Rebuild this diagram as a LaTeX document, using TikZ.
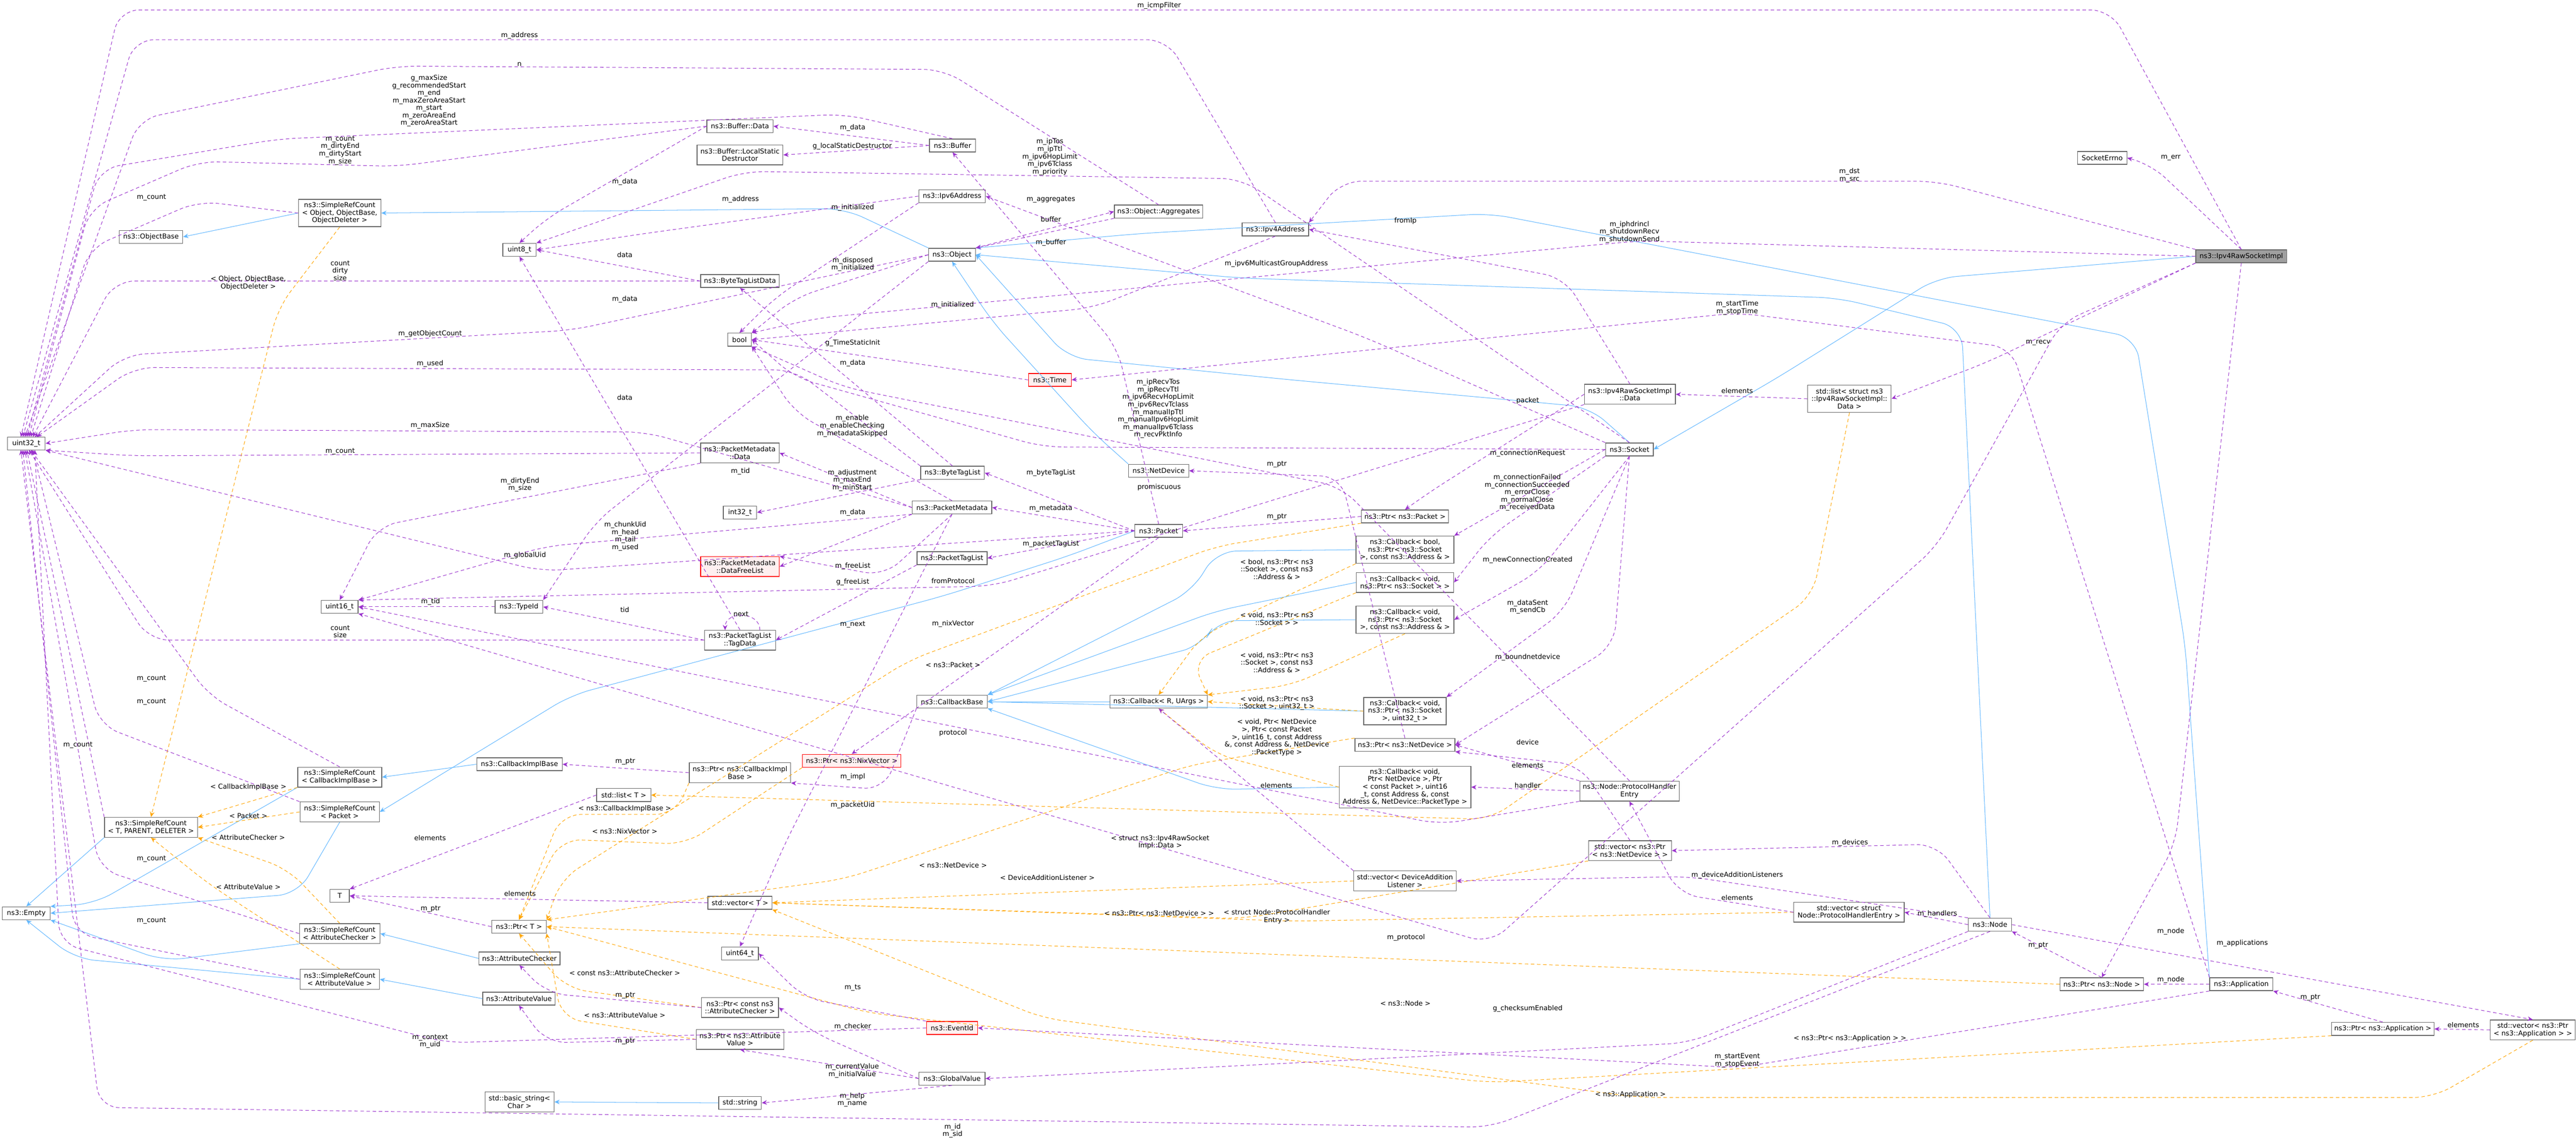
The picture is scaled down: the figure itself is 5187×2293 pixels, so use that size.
\documentclass[tikz,border=0pt]{standalone}
\usepackage{fontspec}
\setmainfont{DejaVu Sans}
\usetikzlibrary{arrows.meta}
\definecolor{pu}{HTML}{9A32CD}
\definecolor{or}{HTML}{FFA500}
\definecolor{bl}{HTML}{63B8FF}
\definecolor{bx}{HTML}{666666}
\begin{document}
\begin{tikzpicture}[x=0.01cm,y=-0.01cm,
  box/.style={draw=bx,fill=white,font=\fontsize{3.9}{4.3}\selectfont,align=center,inner sep=0.5pt,minimum height=0.26cm},
  two/.style={minimum height=0.40cm},
  three/.style={minimum height=0.55cm},
  redbox/.style={draw=red,fill=red!6},
  lbl/.style={font=\fontsize{3.9}{4.3}\selectfont,align=center,inner sep=0pt},
  use/.style={draw=pu,dash pattern=on 2pt off 1.5pt,line width=0.3pt,-{Stealth[length=3pt,width=2.6pt]},rounded corners=0.4cm},
  tmpl/.style={draw=or,dash pattern=on 2pt off 1.5pt,line width=0.3pt,-{Stealth[length=3pt,width=2.6pt]},rounded corners=0.4cm},
  inh/.style={draw=bl,line width=0.3pt,-{Stealth[length=3pt,width=2.6pt]},rounded corners=0.4cm}]
\useasboundingbox[fill=white] (0,0) rectangle (5187,2293);
% ---------------- nodes
\node[box,minimum width=1.83cm,fill=gray!75,draw=bx] (raw) at (4513,516) {ns3::Ipv4RawSocketImpl};
\node[box,minimum width=0.99cm] (errno) at (4233,318) {SocketErrno};
\node[box,minimum width=0.96cm] (sock) at (3281,905) {ns3::Socket};
\node[box,two,minimum width=1.83cm] (rawdata) at (3282,794) {ns3::Ipv4RawSocketImpl\\::Data};
\node[box,three,minimum width=1.68cm] (rawlist) at (3724,803) {std::list\textless{} struct ns3\\::Ipv4RawSocketImpl::\\Data \textgreater};
\node[box,minimum width=0.94cm] (obj) at (1917,513) {ns3::Object};
\node[box,three,minimum width=1.66cm] (srcobj) at (684,429) {ns3::SimpleRefCount\\\textless{} Object, ObjectBase,\\ObjectDeleter \textgreater};
\node[box,minimum width=1.28cm] (objbase) at (304,477) {ns3::ObjectBase};
\node[box,minimum width=0.76cm] (u32) at (53,893) {uint32\_t};
\node[box,minimum width=0.67cm] (u8) at (1046,503) {uint8\_t};
\node[box,minimum width=0.74cm] (u16) at (684,1222) {uint16\_t};
\node[box,minimum width=0.74cm] (u64) at (1490,1920) {uint64\_t};
\node[box,minimum width=0.67cm] (i32) at (1490,1032) {int32\_t};
\node[box,minimum width=0.48cm] (bool) at (1489,684) {bool};
\node[box,minimum width=0.93cm] (buf) at (1918,293) {ns3::Buffer};
\node[box,minimum width=1.33cm] (bufdata) at (1490,254) {ns3::Buffer::Data};
\node[box,two,minimum width=1.73cm] (bufdtor) at (1490,312) {ns3::Buffer::LocalStatic\\Destructor};
\node[box,minimum width=1.34cm] (ipv6) at (1917,395) {ns3::Ipv6Address};
\node[box,minimum width=1.34cm] (ipv4) at (2568,462) {ns3::Ipv4Address};
\node[box,minimum width=1.78cm] (agg) at (2333,426) {ns3::Object::Aggregates};
\node[box,minimum width=1.58cm] (btld) at (1490,566) {ns3::ByteTagListData};
\node[box,redbox,minimum width=0.86cm] (time) at (2114,765) {ns3::Time};
\node[box,two,minimum width=1.58cm] (pmdata) at (1490,912) {ns3::PacketMetadata\\::Data};
\node[box,minimum width=1.28cm] (btl) at (1918,952) {ns3::ByteTagList};
\node[box,minimum width=1.60cm] (pm) at (1917,1022) {ns3::PacketMetadata};
\node[box,minimum width=1.41cm] (ptl) at (1917,1124) {ns3::PacketTagList};
\node[box,two,redbox,minimum width=1.58cm] (freel) at (1490,1141) {ns3::PacketMetadata\\::DataFreeList};
\node[box,minimum width=1.21cm] (netdev) at (2333,948) {ns3::NetDevice};
\node[box,minimum width=0.96cm] (packet) at (2333,1069) {ns3::Packet};
\node[box,minimum width=1.75cm] (ptrpkt) at (2829,1040) {ns3::Ptr\textless{} ns3::Packet \textgreater};
\node[box,three,minimum width=1.97cm] (cbbool) at (2829,1107) {ns3::Callback\textless{} bool,\\ ns3::Ptr\textless{} ns3::Socket\\ \textgreater, const ns3::Address \& \textgreater};
\node[box,two,minimum width=1.96cm] (cbv) at (2829,1173) {ns3::Callback\textless{} void,\\ ns3::Ptr\textless{} ns3::Socket \textgreater{} \textgreater};
\node[box,three,minimum width=1.97cm] (cbva) at (2829,1248) {ns3::Callback\textless{} void,\\ ns3::Ptr\textless{} ns3::Socket\\ \textgreater, const ns3::Address \& \textgreater};
\node[box,minimum width=1.96cm] (cbr) at (2333,1413) {ns3::Callback\textless{} R, UArgs \textgreater};
\node[box,three,minimum width=1.66cm] (cbvu) at (2829,1432) {ns3::Callback\textless{} void,\\ ns3::Ptr\textless{} ns3::Socket\\ \textgreater, uint32\_t \textgreater};
\node[box,minimum width=2.01cm] (ptrnd) at (2829,1500) {ns3::Ptr\textless{} ns3::NetDevice \textgreater};
\node[box,minimum width=2.65cm,minimum height=0.84cm] (cbnd) at (2829,1585) {ns3::Callback\textless{} void,\\ Ptr\textless{} NetDevice \textgreater, Ptr\\\textless{} const Packet \textgreater, uint16\\\_t, const Address \&, const\\ Address \&, NetDevice::PacketType \textgreater};
\node[box,two,minimum width=2.06cm] (vdal) at (2829,1774) {std::vector\textless{} DeviceAddition\\Listener \textgreater};
\node[box,two,minimum width=2.00cm] (phe) at (3281,1593) {ns3::Node::ProtocolHandler\\Entry};
\node[box,two,minimum width=1.67cm] (vnd) at (3282,1713) {std::vector\textless{} ns3::Ptr\\\textless{} ns3::NetDevice \textgreater{} \textgreater};
\node[box,two,minimum width=2.22cm] (vphe) at (3723,1837) {std::vector\textless{} struct\\ Node::ProtocolHandlerEntry \textgreater};
\node[box,minimum width=0.87cm] (node) at (4007,1862) {ns3::Node};
\node[box,minimum width=1.68cm] (ptrnode) at (4232,1982) {ns3::Ptr\textless{} ns3::Node \textgreater};
\node[box,minimum width=1.27cm] (app) at (4513,1982) {ns3::Application};
\node[box,minimum width=2.06cm] (ptrapp) at (4798,2072) {ns3::Ptr\textless{} ns3::Application \textgreater};
\node[box,two,minimum width=1.71cm] (vapp) at (5100,2074) {std::vector\textless{} ns3::Ptr\\\textless{} ns3::Application \textgreater{} \textgreater};
\node[box,minimum width=0.96cm] (typeid) at (1045,1222) {ns3::TypeId};
\node[box,two,minimum width=1.43cm] (tagdata) at (1490,1289) {ns3::PacketTagList\\::TagData};
\node[box,minimum width=1.42cm] (cbbase) at (1917,1413) {ns3::CallbackBase};
\node[box,minimum width=1.72cm] (cib) at (1046,1539) {ns3::CallbackImplBase};
\node[box,two,minimum width=2.04cm] (ptrcib) at (1490,1556) {ns3::Ptr\textless{} ns3::CallbackImpl\\Base \textgreater};
\node[box,redbox,minimum width=1.98cm] (ptrnix) at (1715,1532) {ns3::Ptr\textless{} ns3::NixVector \textgreater};
\node[box,minimum width=1.09cm] (stdlist) at (1256,1601) {std::list\textless{} T \textgreater};
\node[box,minimum width=1.29cm] (stdvec) at (1490,1818) {std::vector\textless{} T \textgreater};
\node[box,minimum width=0.39cm] (tnode) at (684,1804) {T};
\node[box,minimum width=1.10cm] (ptrt) at (1045,1866) {ns3::Ptr\textless{} T \textgreater};
\node[box,minimum width=1.63cm] (ac) at (1046,1930) {ns3::AttributeChecker};
\node[box,minimum width=1.46cm] (av) at (1045,2011) {ns3::AttributeValue};
\node[box,two,minimum width=1.55cm] (ptrac) at (1490,2029) {ns3::Ptr\textless{} const ns3\\::AttributeChecker \textgreater};
\node[box,two,minimum width=1.76cm] (ptrav) at (1490,2093) {ns3::Ptr\textless{} ns3::Attribute\\Value \textgreater};
\node[box,redbox,minimum width=1.03cm] (eventid) at (1917,2070) {ns3::EventId};
\node[box,minimum width=1.33cm] (gv) at (1917,2172) {ns3::GlobalValue};
\node[box,minimum width=0.86cm] (str) at (1490,2221) {std::string};
\node[box,two,minimum width=1.39cm] (bstr) at (1046,2219) {std::basic\_string\textless\\Char \textgreater};
\node[box,two,minimum width=1.69cm] (srccib) at (684,1565) {ns3::SimpleRefCount\\\textless{} CallbackImplBase \textgreater};
\node[box,two,minimum width=1.87cm] (srctpd) at (304,1666) {ns3::SimpleRefCount\\\textless{} T, PARENT, DELETER \textgreater};
\node[box,two,minimum width=1.60cm] (srcpkt) at (684,1635) {ns3::SimpleRefCount\\\textless{} Packet \textgreater};
\node[box,two,minimum width=1.62cm] (srcac) at (684,1880) {ns3::SimpleRefCount\\\textless{} AttributeChecker \textgreater};
\node[box,two,minimum width=1.60cm] (srcav) at (684,1972) {ns3::SimpleRefCount\\\textless{} AttributeValue \textgreater};
\node[box,minimum width=0.96cm] (empty) at (53,1839) {ns3::Empty};
% ---------------- inheritance (blue)
\draw[inh] (srcobj.west) -- (objbase.east);
\draw[inh] (obj.north west) -- (1700,420) -- (srcobj.east);
\draw[inh] (sock.north) -- (3200,820) -- (2600,765) -- (2150,720) -- (obj.east);
\draw[inh] (netdev.north west) -- (2200,870) -- (2000,650) -- (obj.south);
\draw[inh] (node.north) -- (3950,660) -- (3700,600) -- (2500,560) -- (obj.east);
\draw[inh] (app.north west) -- (4400,1300) -- (4300,680) -- (3000,430) -- (2300,470) -- (obj.north east);
\draw[inh] (raw.west) -- (3900,560) -- (3580,760) -- (sock.east);
\draw[inh] (packet.west) -- (2150,1120) -- (1900,1200) -- (1150,1400) -- (srcpkt.east);
\draw[inh] (srcpkt.south) -- (600,1800) -- (empty.east);
\draw[inh] (srccib.south west) -- (190,1820) -- (empty.north east);
\draw[inh] (srctpd.south west) -- (empty.north);
\draw[inh] (srcac.south west) -- (330,1935) -- (empty.south east);
\draw[inh] (srcav.west) -- (150,1930) -- (empty.south);
\draw[inh] (cib.west) -- (srccib.east);
\draw[inh] (ac.west) -- (srcac.east);
\draw[inh] (av.west) -- (srcav.east);
\draw[inh] (str.west) -- (bstr.east);
\draw[inh] (cbr.west) -- (cbbase.east);
\draw[inh] (cbbool.west) -- (2450,1110) -- (2400,1190) -- (cbbase.north east);
\draw[inh] (cbv.west) -- (2450,1230) -- (cbbase.north east);
\draw[inh] (cbva.west) -- (2450,1250) -- (2420,1300) -- (cbbase.east);
\draw[inh] (cbvu.west) -- (cbbase.east);
\draw[inh] (cbnd.west) -- (2450,1590) -- (cbbase.south east);
% ---------------- templates (orange)
\draw[tmpl] (srcobj.south) -- (560,620) -- (srctpd.north);
\draw[tmpl] (srccib.south west) -- (srctpd.north east);
\draw[tmpl] (srcpkt.west) -- (srctpd.east);
\draw[tmpl] (srcac.north) -- (580,1750) -- (srctpd.south east);
\draw[tmpl] (srcav.north) -- (420,1780) -- (srctpd.south);
\draw[tmpl] (ptrcib.south west) -- (1360,1640) -- (1130,1640) -- (ptrt.north);
\draw[tmpl] (ptrnix.south west) -- (1380,1700) -- (1130,1690) -- (ptrt.north);
\draw[tmpl] (ptrac.west) -- (1140,1990) -- (ptrt.south);
\draw[tmpl] (ptrav.west) -- (1130,2050) -- (ptrt.south east);
\draw[tmpl] (ptrpkt.south west) -- (2450,1100) -- (1830,1330) -- (1130,1770) -- (ptrt.north east);
\draw[tmpl] (ptrnd.north west) -- (2400,1540) -- (1700,1770) -- (ptrt.north east);
\draw[tmpl] (ptrnode.west) -- (ptrt.east);
\draw[tmpl] (ptrapp.south west) -- (3000,2180) -- (1750,2040) -- (ptrt.east);
\draw[tmpl] (rawlist.south) -- (3650,1200) -- (3000,1650) -- (stdlist.east);
\draw[tmpl] (vdal.west) -- (stdvec.east);
\draw[tmpl] (vnd.south west) -- (2500,1850) -- (stdvec.east);
\draw[tmpl] (vphe.west) -- (2600,1855) -- (stdvec.east);
\draw[tmpl] (vapp.south) -- (4900,2210) -- (3300,2210) -- (2100,2050) -- (stdvec.south east);
\draw[tmpl] (cbbool.south west) -- (2420,1280) -- (cbr.north);
\draw[tmpl] (cbv.south west) -- (2400,1330) -- (cbr.north east);
\draw[tmpl] (cbva.south) -- (2600,1380) -- (cbr.north east);
\draw[tmpl] (cbvu.west) -- (cbr.east);
\draw[tmpl] (cbnd.west) -- (2450,1520) -- (cbr.south);
% ---------------- usage (purple)
\draw[use] (raw.north) -- (4250,20) -- (240,20) -- (42,880);
\draw[use] (ipv4.north) -- (2350,80) -- (270,80) -- (46,880);
\draw[use] (agg.north) -- (1900,140) -- (800,133) -- (280,240) -- (50,880);
\draw[use] (buf.north) -- (1700,230) -- (560,280) -- (200,340) -- (54,880);
\draw[use] (bufdata.west) -- (800,335) -- (400,325) -- (180,420) -- (58,880);
\draw[use] (srcobj.west) -- (400,405) -- (180,500) -- (62,880);
\draw[use] (btld.west) -- (230,566) -- (66,880);
\draw[use] (obj.west) -- (1150,665) -- (250,715) -- (70,880);
\draw[use] (btl.north west) -- (1600,745) -- (270,740) -- (74,880);
\draw[use] (pm.west) -- (1300,870) -- (270,865) -- (u32.east);
\draw[use] (pmdata.west) -- (270,918) -- (u32.south east);
\draw[use] (packet.west) -- (1090,1150) -- (u32.south east);
\draw[use] (tagdata.west) -- (300,1289) -- (58,906);
\draw[use] (srccib.north) -- (420,1400) -- (62,906);
\draw[use] (srcpkt.north west) -- (200,1460) -- (66,906);
\draw[use] (srctpd.north west) -- (54,906);
\draw[use] (srcac.west) -- (200,1750) -- (50,906);
\draw[use] (srcav.west) -- (150,1880) -- (46,906);
\draw[use] (eventid.west) -- (900,2100) -- (120,1900) -- (70,906);
\draw[use] (node.south) -- (3000,2270) -- (200,2230) -- (42,906);
\draw[use] (pmdata.south west) -- (760,1060) -- (u16.north);
\draw[use] (bufdata.west) -- (1100,440) -- (u8.north);
\draw[use] (ipv6.west) -- (1300,470) -- (u8.east);
\draw[use] (btld.west) -- (u8.east);
\draw[use] (sock.north) -- (2500,360) -- (1500,345) -- (u8.north east);
\draw[use] (tagdata.north) -- (u8.south);
\draw[use] (obj.west) -- (1600,600) -- (bool.north east);
\draw[use] (time.west) -- (bool.east);
\draw[use] (ipv6.south west) -- (1560,600) -- (bool.north);
\draw[use] (ipv4.south) -- (2200,620) -- (bool.east);
\draw[use] (pm.north) -- (1600,830) -- (bool.south east);
\draw[use] (sock.west) -- (2100,900) -- (1600,760) -- (bool.east);
\draw[use] (phe.north) -- (2700,980) -- (1700,780) -- (bool.south east);
\draw[use] (raw.west) -- (3300,485) -- (1650,640) -- (bool.north east);
\draw[use] (btl.north) -- (btld.south);
\draw[use] (obj.north east) -- (agg.west);
\draw[use] (agg.south west) -- (obj.north east);
\draw[use] (packet.north) -- (2250,700) -- (buf.south);
\draw[use] (buf.west) -- (bufdata.east);
\draw[use] (buf.west) -- (bufdtor.east);
\draw[use] (packet.west) -- (btl.east);
\draw[use] (packet.west) -- (pm.east);
\draw[use] (packet.west) -- (ptl.east);
\draw[use] (packet.south) -- (ptrnix.north);
\draw[use] (pm.west) -- (pmdata.east);
\draw[use] (pm.south west) -- (freel.east);
\draw[use] (pm.south) -- (1780,1160) -- (freel.north east);
\draw[use] (btl.south west) -- (i32.east);
\draw[use] (pm.south west) -- (1100,1100) -- (u16.north east);
\draw[use] (pm.south) -- (1580,1700) -- (u64.north);
\draw[use] (ptl.south west) -- (tagdata.east);
\draw[use] (1530,1269) .. controls (1530,1230) and (1460,1230) .. (1460,1269);
\draw[use] (tagdata.west) -- (typeid.east);
\draw[use] (typeid.west) -- (u16.east);
\draw[use] (obj.south west) -- (1200,1050) -- (typeid.north east);
\draw[use] (ptrpkt.west) -- (packet.east);
\draw[use] (ptrnd.north) -- (2700,960) -- (netdev.east);
\draw[use] (rawdata.west) -- (2880,990) -- (ptrpkt.north);
\draw[use] (rawdata.north) -- (3150,560) -- (ipv4.east);
\draw[use] (rawdata.south west) -- (2000,1180) -- (u16.north east);
\draw[use] (rawlist.west) -- (rawdata.east);
\draw[use] (raw.south west) -- (4000,730) -- (rawlist.east);
\draw[use] (raw.north) -- (4330,330) -- (errno.east);
\draw[use] (raw.north west) -- (3900,365) -- (2700,365) -- (ipv4.north east);
\draw[use] (raw.south) -- (4380,1700) -- (ptrnode.north);
\draw[use] (raw.south west) -- (4150,650) -- (3900,1100) -- (3000,1900) -- (u16.south east);
\draw[use] (sock.west) -- (cbbool.north east);
\draw[use] (sock.south west) -- (3000,1080) -- (cbv.east);
\draw[use] (sock.south) -- (3100,1150) -- (cbva.east);
\draw[use] (sock.south) -- (3150,1230) -- (cbvu.north east);
\draw[use] (sock.south) -- (3250,1300) -- (ptrnd.east);
\draw[use] (sock.north west) -- (2750,680) -- (ipv6.east);
\draw[use] (phe.west) -- (cbnd.east);
\draw[use] (phe.north west) -- (ptrnd.east);
\draw[use] (phe.south west) -- (2900,1660) -- (u16.east);
\draw[use] (vnd.north) -- (3180,1540) -- (ptrnd.south east);
\draw[use] (vphe.west) -- (3380,1800) -- (phe.south);
\draw[use] (vdal.north west) -- (cbr.south);
\draw[use] (node.north) -- (3900,1700) -- (vnd.east);
\draw[use] (node.west) -- (vphe.east);
\draw[use] (node.north west) -- (3400,1765) -- (vdal.east);
\draw[use] (node.east) -- (vapp.north);
\draw[use] (node.south west) -- (3400,2100) -- (gv.east);
\draw[use] (ptrnode.north) -- (node.south east);
\draw[use] (ptrapp.north) -- (app.south east);
\draw[use] (vapp.west) -- (ptrapp.east);
\draw[use] (app.west) -- (ptrnode.east);
\draw[use] (app.south west) -- (3500,2150) -- (eventid.east);
\draw[use] (app.north west) -- (4050,700) -- (3500,630) -- (time.east);
\draw[use] (eventid.north west) -- (1620,2010) -- (u64.east);
\draw[use] (gv.west) -- (1640,2080) -- (ptrac.east);
\draw[use] (gv.west) -- (ptrav.south);
\draw[use] (gv.south) -- (str.east);
\draw[use] (ptrt.west) -- (tnode.east);
\draw[use] (stdlist.west) -- (tnode.north east);
\draw[use] (stdvec.west) -- (tnode.east);
\draw[use] (ptrcib.west) -- (cib.east);
\draw[use] (ptrac.west) -- (1100,2000) -- (ac.south);
\draw[use] (ptrav.west) -- (1100,2100) -- (av.south);
\draw[use] (cbbase.south west) -- (1780,1590) -- (ptrcib.south east);
% ---------------- labels
\node[lbl] (l1) at (2334,11) {m\_icmpFilter};
\node[lbl] (l2) at (1046,72) {m\_address};
\node[lbl] (l3) at (1046,129) {n};
\node[lbl] (l4) at (864,203) {g\_maxSize\\g\_recommendedStart\\m\_end\\m\_maxZeroAreaStart\\m\_start\\m\_zeroAreaEnd\\m\_zeroAreaStart};
\node[lbl] (l5) at (685,303) {m\_count\\m\_dirtyEnd\\m\_dirtyStart\\m\_size};
\node[lbl] (l6) at (305,398) {m\_count};
\node[lbl] (l7) at (685,545) {count\\dirty\\size};
\node[lbl] (l8) at (500,570) {\textless{} Object, ObjectBase,\\ObjectDeleter \textgreater};
\node[lbl] (l9) at (866,672) {m\_getObjectCount};
\node[lbl] (l10) at (866,732) {m\_used};
\node[lbl] (l11) at (866,857) {m\_maxSize};
\node[lbl] (l12) at (685,909) {m\_count};
\node[lbl] (l13) at (1047,976) {m\_dirtyEnd\\m\_size};
\node[lbl] (l14) at (1057,1118) {m\_globalUid};
\node[lbl] (l15) at (1717,257) {m\_data};
\node[lbl] (l16) at (1716,295) {g\_localStaticDestructor};
\node[lbl] (l17) at (1258,366) {m\_data};
\node[lbl] (l18) at (2114,316) {m\_ipTos\\m\_ipTtl\\m\_ipv6HopLimit\\m\_ipv6Tclass\\m\_priority};
\node[lbl] (l19) at (1491,402) {m\_address};
\node[lbl] (l20) at (1717,418) {m\_initialized};
\node[lbl] (l21) at (2116,402) {m\_aggregates};
\node[lbl] (l22) at (2116,441) {buffer};
\node[lbl] (l23) at (2116,489) {m\_buffer};
\node[lbl] (l24) at (1258,513) {data};
\node[lbl] (l25) at (1717,532) {m\_disposed\\m\_initialized};
\node[lbl] (l26) at (1258,603) {m\_data};
\node[lbl] (l27) at (1918,614) {m\_initialized};
\node[lbl] (l28) at (1717,691) {g\_TimeStaticInit};
\node[lbl] (l29) at (1717,731) {m\_data};
\node[lbl] (l30) at (1258,800) {data};
\node[lbl] (l31) at (1716,858) {m\_enable\\m\_enableChecking\\m\_metadataSkipped};
\node[lbl] (l32) at (1491,949) {m\_tid};
\node[lbl] (l33) at (2116,952) {m\_byteTagList};
\node[lbl] (l34) at (1716,967) {m\_adjustment\\m\_maxEnd\\m\_minStart};
\node[lbl] (l35) at (2116,1024) {m\_metadata};
\node[lbl] (l36) at (1717,1032) {m\_data};
\node[lbl] (l37) at (1259,1080) {m\_chunkUid\\m\_head\\m\_tail\\m\_used};
\node[lbl] (l38) at (2116,1096) {m\_packetTagList};
\node[lbl] (l39) at (1717,1140) {m\_freeList};
\node[lbl] (l40) at (2570,531) {m\_ipv6MulticastGroupAddress};
\node[lbl] (l41) at (2830,445) {fromIp};
\node[lbl] (l42) at (3724,353) {m\_dst\\m\_src};
\node[lbl] (l43) at (3281,467) {m\_iphdrincl\\m\_shutdownRecv\\m\_shutdownSend};
\node[lbl] (l44) at (3498,620) {m\_startTime\\m\_stopTime};
\node[lbl] (l45) at (4104,690) {m\_recv};
\node[lbl] (l46) at (3498,787) {elements};
\node[lbl] (l47) at (2332,823) {m\_ipRecvTos\\m\_ipRecvTtl\\m\_ipv6RecvHopLimit\\m\_ipv6RecvTclass\\m\_manualIpTtl\\m\_manualIpv6HopLimit\\m\_manualIpv6Tclass\\m\_recvPktInfo};
\node[lbl] (l48) at (3076,807) {packet};
\node[lbl] (l49) at (3076,913) {m\_connectionRequest};
\node[lbl] (l50) at (2571,935) {m\_ptr};
\node[lbl] (l51) at (2334,981) {promiscuous};
\node[lbl] (l52) at (3075,992) {m\_connectionFailed\\m\_connectionSucceeded\\m\_errorClose\\m\_normalClose\\m\_receivedData};
\node[lbl] (l53) at (2571,1041) {m\_ptr};
\node[lbl] (l54) at (3076,1128) {m\_newConnectionCreated};
\node[lbl] (l55) at (1717,1172) {g\_freeList};
\node[lbl] (l56) at (1919,1170) {fromProtocol};
\node[lbl] (l57) at (1258,1228) {tid};
\node[lbl] (l58) at (1492,1236) {next};
\node[lbl] (l59) at (1717,1258) {m\_next};
\node[lbl] (l60) at (1919,1256) {m\_nixVector};
\node[lbl] (l61) at (1919,1339) {\textless{} ns3::Packet \textgreater};
\node[lbl] (l62) at (1919,1476) {protocol};
\node[lbl] (l63) at (1259,1534) {m\_ptr};
\node[lbl] (l64) at (1717,1564) {m\_impl};
\node[lbl] (l65) at (1258,1629) {\textless{} ns3::CallbackImplBase \textgreater};
\node[lbl] (l66) at (1717,1621) {m\_packetUid};
\node[lbl] (l67) at (1258,1674) {\textless{} ns3::NixVector \textgreater};
\node[lbl] (l68) at (1919,1742) {\textless{} ns3::NetDevice \textgreater};
\node[lbl] (l69) at (2109,1767) {\textless{} DeviceAdditionListener \textgreater};
\node[lbl] (l70) at (866,1687) {elements};
\node[lbl] (l71) at (1047,1799) {elements};
\node[lbl] (l72) at (867,1830) {m\_ptr};
\node[lbl] (l73) at (1258,1959) {\textless{} const ns3::AttributeChecker \textgreater};
\node[lbl] (l74) at (1717,1989) {m\_ts};
\node[lbl] (l75) at (1259,2005) {m\_ptr};
\node[lbl] (l76) at (1258,2044) {\textless{} ns3::AttributeValue \textgreater};
\node[lbl] (l77) at (1717,2068) {m\_checker};
\node[lbl] (l78) at (1259,2097) {m\_ptr};
\node[lbl] (l79) at (1716,2156) {m\_currentValue\\m\_initialValue};
\node[lbl] (l80) at (1716,2215) {m\_help\\m\_name};
\node[lbl] (l81) at (1918,2277) {m\_id\\m\_sid};
\node[lbl] (l82) at (866,2097) {m\_context\\m\_uid};
\node[lbl] (l83) at (305,1367) {m\_count};
\node[lbl] (l84) at (305,1413) {m\_count};
\node[lbl] (l85) at (157,1500) {m\_count};
\node[lbl] (l86) at (305,1730) {m\_count};
\node[lbl] (l87) at (305,1854) {m\_count};
\node[lbl] (l88) at (500,1585) {\textless{} CallbackImplBase \textgreater};
\node[lbl] (l89) at (500,1643) {\textless{} Packet \textgreater};
\node[lbl] (l90) at (500,1686) {\textless{} AttributeChecker \textgreater};
\node[lbl] (l91) at (500,1786) {\textless{} AttributeValue \textgreater};
\node[lbl] (l92) at (867,1212) {m\_tid};
\node[lbl] (l93) at (685,1272) {count\\size};
\node[lbl] (l94) at (2571,1146) {\textless{} bool, ns3::Ptr\textless{} ns3\\::Socket \textgreater, const ns3\\::Address \& \textgreater};
\node[lbl] (l95) at (2571,1246) {\textless{} void, ns3::Ptr\textless{} ns3\\::Socket \textgreater{} \textgreater};
\node[lbl] (l96) at (2571,1334) {\textless{} void, ns3::Ptr\textless{} ns3\\::Socket \textgreater, const ns3\\::Address \& \textgreater};
\node[lbl] (l97) at (2571,1416) {\textless{} void, ns3::Ptr\textless{} ns3\\::Socket \textgreater, uint32\_t \textgreater};
\node[lbl] (l98) at (2571,1485) {\textless{} void, Ptr\textless{} NetDevice\\\textgreater, Ptr\textless{} const Packet\\\textgreater, uint16\_t, const Address\\\&, const Address \&, NetDevice\\::PacketType \textgreater};
\node[lbl] (l99) at (3076,1222) {m\_dataSent\\m\_sendCb};
\node[lbl] (l100) at (3076,1324) {m\_boundnetdevice};
\node[lbl] (l101) at (3076,1494) {device};
\node[lbl] (l102) at (3076,1541) {elements};
\node[lbl] (l103) at (3076,1582) {handler};
\node[lbl] (l104) at (2570,1582) {elements};
\node[lbl] (l105) at (2336,1696) {\textless{} struct ns3::Ipv4RawSocket\\Impl::Data \textgreater};
\node[lbl] (l106) at (2334,1839) {\textless{} ns3::Ptr\textless{} ns3::NetDevice \textgreater{} \textgreater};
\node[lbl] (l107) at (2571,1846) {\textless{} struct Node::ProtocolHandler\\Entry \textgreater};
\node[lbl] (l108) at (2831,1888) {m\_protocol};
\node[lbl] (l109) at (2830,2020) {\textless{} ns3::Node \textgreater};
\node[lbl] (l110) at (3076,2031) {g\_checksumEnabled};
\node[lbl] (l111) at (3725,1697) {m\_devices};
\node[lbl] (l112) at (3498,1763) {m\_deviceAdditionListeners};
\node[lbl] (l113) at (3498,1808) {elements};
\node[lbl] (l114) at (3901,1840) {m\_handlers};
\node[lbl] (l115) at (4104,1904) {m\_ptr};
\node[lbl] (l116) at (3725,2091) {\textless{} ns3::Ptr\textless{} ns3::Application \textgreater{} \textgreater};
\node[lbl] (l117) at (3498,2136) {m\_startEvent\\m\_stopEvent};
\node[lbl] (l118) at (3283,2204) {\textless{} ns3::Application \textgreater};
\node[lbl] (l119) at (4371,1876) {m\_node};
\node[lbl] (l120) at (4515,1899) {m\_applications};
\node[lbl] (l121) at (4371,1973) {m\_node};
\node[lbl] (l122) at (4652,2009) {m\_ptr};
\node[lbl] (l123) at (4960,2064) {elements};
\node[lbl] (l124) at (4371,318) {m\_err};
\end{tikzpicture}
\end{document}
